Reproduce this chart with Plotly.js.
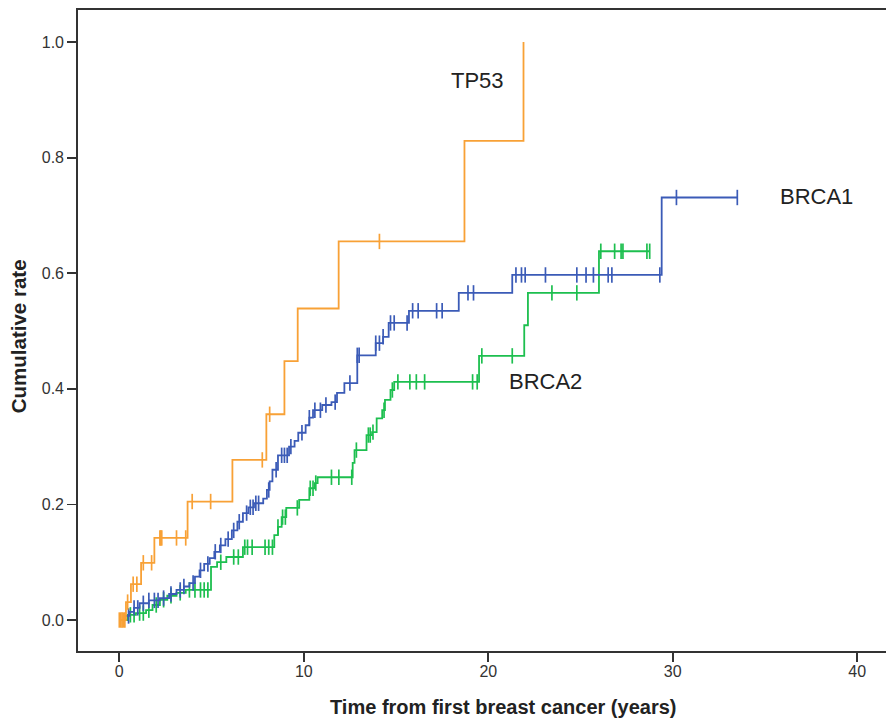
<!DOCTYPE html>
<html>
<head>
<meta charset="utf-8">
<script src="https://cdn.plot.ly/plotly-3.0.1.min.js"></script>
<style>
html,body{margin:0;padding:0;background:#fff;}
#chart{width:886px;height:722px;}
</style>
</head>
<body>
<div id="chart"></div>
<script>
// ---------- DATA ----------
// TP53: event times (years) and cumulative rate after each event
const tp53Time = [0, 0.36, 0.63, 1.18, 1.90, 3.70, 6.13, 7.97, 8.95, 9.67, 11.89, 18.71, 21.91];
const tp53Rate = [0, 0.031, 0.062, 0.099, 0.142, 0.205, 0.277, 0.356, 0.448, 0.539, 0.655, 0.829, 1.0];
const tp53Censor = [0.0, 0.08, 0.15, 0.22, 0.3, 0.45, 0.75, 0.95, 1.3, 1.75, 2.2, 2.25, 2.3, 3.1, 3.6, 3.95, 4.95, 7.75, 8.15, 14.1];

// BRCA1
const brca1Time = [0, 0.3, 0.55, 0.8, 1.1, 1.6, 2.2, 2.7, 3.1, 3.5, 3.8, 4.1, 4.35, 4.6, 4.9, 5.15, 5.45, 5.75, 6.1, 6.4, 6.7, 7.0, 7.3, 7.8, 8.0, 8.15, 8.3, 8.6, 9.2, 9.5, 9.7, 10.1, 10.3, 10.5, 11.0, 11.5, 11.8, 12.2, 12.9, 13.9, 14.3, 14.6, 15.7, 18.4, 21.3, 29.4];
const brca1Rate = [0, 0.007, 0.014, 0.021, 0.029, 0.034, 0.038, 0.045, 0.052, 0.058, 0.064, 0.075, 0.086, 0.097, 0.107, 0.118, 0.129, 0.140, 0.155, 0.170, 0.185, 0.195, 0.202, 0.210, 0.225, 0.240, 0.260, 0.285, 0.300, 0.310, 0.324, 0.337, 0.350, 0.363, 0.372, 0.377, 0.393, 0.410, 0.458, 0.479, 0.490, 0.514, 0.535, 0.566, 0.597, 0.731];
const brca1Censor = [0.5, 0.8, 1.0, 1.3, 1.6, 1.9, 2.1, 2.4, 2.8, 3.3, 3.5, 4.0, 4.4, 4.8, 5.2, 5.5, 5.9, 6.2, 6.5, 6.9, 7.1, 7.25, 7.4, 7.55, 8.1, 8.5, 8.8, 8.95, 9.1, 9.3, 9.9, 10.3, 10.6, 10.9, 11.2, 11.7, 12.5, 12.9, 13.0, 13.9, 14.1, 14.3, 14.7, 14.9, 15.6, 15.9, 16.2, 17.2, 17.5, 18.9, 19.2, 21.5, 21.8, 22.0, 23.1, 24.8, 25.3, 25.7, 26.5, 26.7, 29.3, 30.2, 33.5];

// BRCA2
const brca2Time = [0, 0.45, 0.9, 1.45, 1.8, 2.2, 2.6, 3.1, 3.6, 4.97, 5.3, 5.8, 6.7, 8.4, 8.6, 8.8, 9.05, 9.75, 10.3, 10.6, 10.75, 12.65, 12.75, 13.4, 13.7, 13.95, 14.25, 14.4, 14.7, 14.9, 19.5, 21.95, 22.15, 26.0];
const brca2Rate = [0, 0.009, 0.012, 0.017, 0.026, 0.035, 0.042, 0.047, 0.052, 0.092, 0.100, 0.109, 0.126, 0.147, 0.161, 0.178, 0.194, 0.208, 0.228, 0.237, 0.247, 0.272, 0.294, 0.320, 0.325, 0.349, 0.363, 0.381, 0.398, 0.412, 0.457, 0.510, 0.566, 0.638];
const brca2Censor = [0.6, 0.8, 1.1, 1.3, 1.6, 2.0, 2.4, 2.8, 3.3, 3.8, 4.1, 4.4, 4.6, 4.8, 5.5, 6.2, 6.45, 6.8, 6.95, 7.2, 7.9, 8.1, 8.3, 8.6, 8.85, 9.0, 9.65, 10.35, 10.5, 10.65, 11.5, 11.9, 12.6, 12.85, 13.5, 13.6, 13.75, 14.35, 14.8, 15.1, 15.75, 16.1, 16.55, 19.15, 19.4, 19.65, 21.3, 23.45, 24.8, 26.1, 26.85, 27.2, 27.3, 28.6, 28.75];

const seriesNames = ["TP53", "BRCA1", "BRCA2"];
const xTickVals = [0, 10, 20, 30, 40];
const yTickVals = [0, 0.2, 0.4, 0.6, 0.8, 1.0];
const yTickText = ["0.0", "0.2", "0.4", "0.6", "0.8", "1.0"];
const xTitle = "Time from first breast cancer (years)";
const yTitle = "Cumulative rate";

// ---------- helpers ----------
function stepAt(times, rates, t) {
  let v = rates[0];
  for (let i = 0; i < times.length; i++) { if (times[i] <= t) v = rates[i]; }
  return v;
}
function lineTrace(times, rates, censor, color) {
  const xs = times.slice(), ys = rates.slice();
  const last = Math.max(...censor);
  if (last > times[times.length - 1]) { xs.push(last); ys.push(rates[rates.length - 1]); }
  return {x: xs, y: ys, mode: "lines", line: {shape: "hv", color: color, width: 1.8},
          hoverinfo: "skip", showlegend: false, type: "scatter"};
}
function censorTrace(times, rates, censor, color) {
  return {x: censor, y: censor.map(t => stepAt(times, rates, t)), mode: "markers",
          marker: {symbol: "line-ns", size: 11, color: color, line: {color: color, width: 1.7}},
          hoverinfo: "skip", showlegend: false, type: "scatter"};
}

const cOrange = "#f8a136", cBlue = "#3b5bb7", cGreen = "#1dbf4f";

const data = [
  lineTrace(brca2Time, brca2Rate, brca2Censor, cGreen),
  censorTrace(brca2Time, brca2Rate, brca2Censor, cGreen),
  lineTrace(brca1Time, brca1Rate, brca1Censor, cBlue),
  censorTrace(brca1Time, brca1Rate, brca1Censor, cBlue),
  lineTrace(tp53Time, tp53Rate, tp53Censor, cOrange),
  censorTrace(tp53Time, tp53Rate, tp53Censor, cOrange)
];

const font = "Liberation Sans, Arial, sans-serif";
const layout = {
  width: 886, height: 722,
  margin: {l: 78, r: 0, t: 10, b: 71, pad: 0},
  paper_bgcolor: "#fff", plot_bgcolor: "#fff",
  font: {family: font, size: 16, color: "#333"},
  xaxis: {range: [-2.24, 41.56], tickvals: xTickVals, ticks: "outside", ticklen: 9, tickwidth: 1.8,
          tickcolor: "#333", showline: true, linecolor: "#333", linewidth: 1.8, mirror: true,
          showgrid: false, zeroline: false, tickfont: {size: 16, color: "#333"}, ticklabelstandoff: -4},
  yaxis: {range: [-0.0536, 1.0554], tickvals: yTickVals, ticktext: yTickText, ticks: "outside", ticklen: 9,
          tickwidth: 1.8, tickcolor: "#333", showline: true, linecolor: "#333", linewidth: 1.8, mirror: false,
          showgrid: false, zeroline: false, tickfont: {size: 16, color: "#333"}},
  annotations: [
    {text: seriesNames[0], x: 19.4, y: 0.934, xref: "x", yref: "y", showarrow: false, font: {size: 22, color: "#222"}},
    {text: seriesNames[1], x: 37.8, y: 0.733, xref: "x", yref: "y", showarrow: false, font: {size: 22, color: "#222"}},
    {text: seriesNames[2], x: 23.1, y: 0.412, xref: "x", yref: "y", showarrow: false, font: {size: 22, color: "#222"}},
    {text: "<b>" + xTitle + "</b>", xref: "paper", yref: "paper", x: 0.526, y: 0, yshift: -56,
     xanchor: "center", yanchor: "middle", showarrow: false, font: {size: 20, color: "#222"}},
    {text: "<b>" + yTitle + "</b>", xref: "paper", yref: "paper", x: -0.0743, y: 0.491, textangle: -90,
     xanchor: "center", yanchor: "middle", showarrow: false, font: {size: 20.5, color: "#222"}}
  ]
};

Plotly.newPlot("chart", data, layout, {displayModeBar: false, staticPlot: true});
</script>
</body>
</html>
